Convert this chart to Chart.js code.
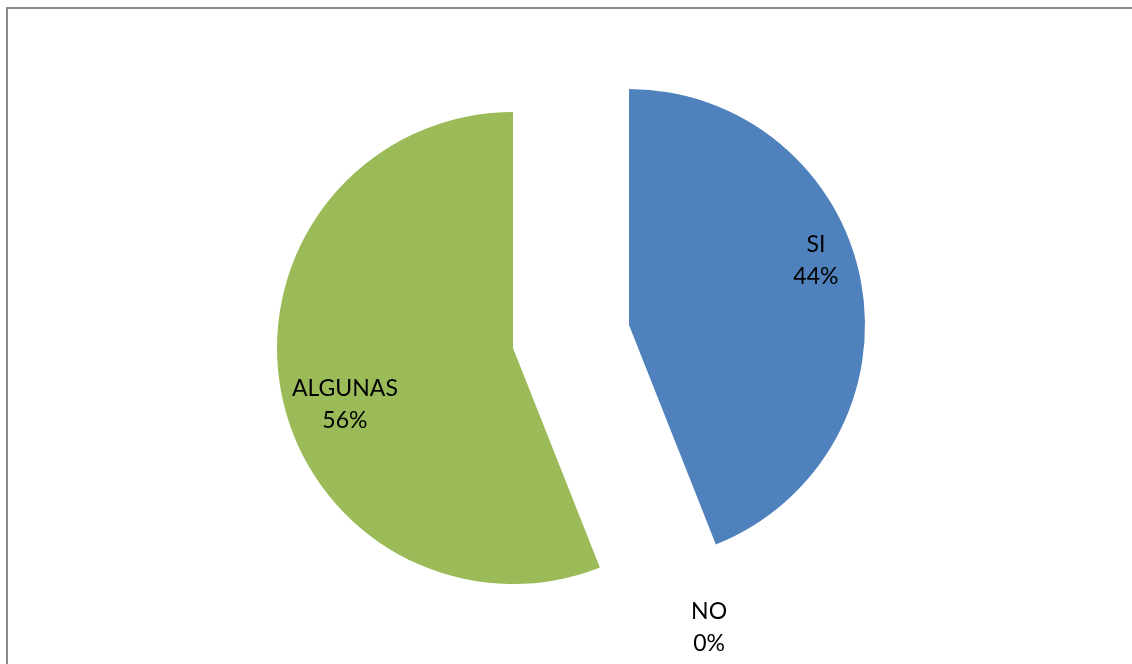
<!DOCTYPE html>
<html>
<head>
<meta charset="utf-8">
<script src="https://cdn.jsdelivr.net/npm/chart.js@4"></script>
<style>
  html, body { margin: 0; padding: 0; background: #fff; }
  .capa { position: absolute; left: 0; top: 0; width: 1132px; height: 664px; }
</style>
</head>
<body>
<div class="capa"><canvas id="graficaSi"></canvas></div>
<div class="capa"><canvas id="graficaAlgunas"></canvas></div>
<script>
var categorias = ['SI', 'NO', 'ALGUNAS'];
var porcentajes = [44, 0, 56];
var colores = ['#4F81BD', '#C0504D', '#9BBB59'];

// marco gris del area del grafico
var marco = {
    id: 'marco',
    beforeDraw: function (chart, args, opts) {
        if (!opts.visible) return;
        var ctx = chart.ctx;
        ctx.save();
        ctx.strokeStyle = '#8a8a8a';
        ctx.lineWidth = 2;
        ctx.strokeRect(7, 8, 1300, 1000);
        ctx.restore();
    }
};

// etiquetas "categoria / porcentaje" junto a cada porcion
var etiquetas = {
    id: 'etiquetas',
    afterDatasetsDraw: function (chart, args, opts) {
        var ctx = chart.ctx;
        var meta = chart.getDatasetMeta(0);
        var ds = chart.data.datasets[0];
        ctx.save();
        ctx.font = opts.font;
        ctx.fillStyle = '#000';
        ctx.textAlign = 'center';
        ctx.textBaseline = 'middle';
        opts.indices.forEach(function (i) {
            var p = meta.data[i].getProps(['x', 'y', 'startAngle', 'endAngle', 'outerRadius'], true);
            var a = (p.startAngle + p.endAngle) / 2 + opts.giro[i] * Math.PI / 180;
            var d = opts.distancia[i] * p.outerRadius;
            var x = p.x + Math.cos(a) * d;
            var y = p.y + Math.sin(a) * d;
            ctx.fillText(chart.data.labels[i], x, y - opts.interlineado / 2);
            ctx.fillText(ds.data[i] + '%', x, y + opts.interlineado / 2);
        });
        ctx.restore();
    }
};

// cada porcion separada se dibuja en su propia capa, desplazada con el padding
function crearPorcion(id, visibles, padding, conMarco) {
    var ctx = document.getElementById(id).getContext('2d');
    return new Chart(ctx, {
        type: 'pie',
        data: {
            labels: categorias,
            datasets: [{
                data: porcentajes,
                backgroundColor: colores.map(function (c, i) {
                    return visibles.indexOf(i) >= 0 ? c : 'rgba(0,0,0,0)';
                }),
                borderWidth: 0,
                radius: 236,
                clip: false
            }]
        },
        options: {
            responsive: true,
            maintainAspectRatio: false,
            animation: false,
            events: [],
            layout: { padding: padding },
            plugins: {
                legend: { display: false },
                tooltip: { enabled: false },
                marco: { visible: conMarco },
                etiquetas: {
                    indices: visibles,
                    font: '23px Lato, "Liberation Sans", sans-serif',
                    interlineado: 32,
                    giro: [-8.1, 6.8, -7.9],
                    distancia: [0.837, 1.328, 0.752]
                }
            }
        },
        plugins: [marco, etiquetas]
    });
}

var chartSi = crearPorcion('graficaSi', [0, 1], { left: 126, right: 0, top: 0, bottom: 14 }, true);
var chartAlgunas = crearPorcion('graficaAlgunas', [2], { left: 0, right: 106, top: 32, bottom: 0 }, false);
</script>
</body>
</html>
